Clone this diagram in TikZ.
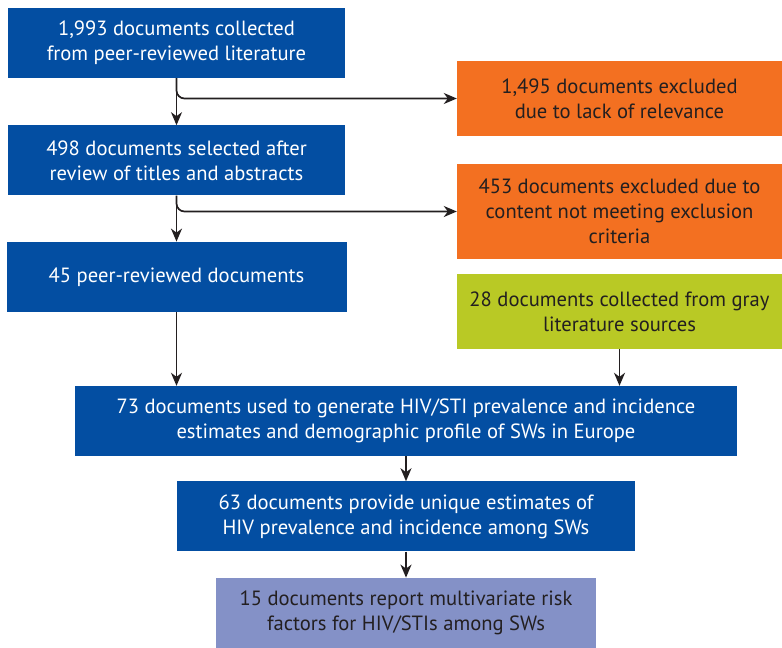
\documentclass[tikz,border=0pt]{standalone}
\usepackage{fontspec}
\setmainfont{PT Sans}
\usepackage{xcolor}
\usetikzlibrary{positioning, arrows.meta}
\definecolor{BoxBlue}{HTML}{034EA2}
\definecolor{ExclOrange}{HTML}{F37021}
\definecolor{GrayGreen}{HTML}{B9C925}
\definecolor{RiskLilac}{HTML}{8491C7}
\definecolor{InkDark}{HTML}{231F20}

\begin{document}
\begin{tikzpicture}[
    x=1pt, y=1pt,
    box/.style={
      rectangle, inner sep=0pt,
      minimum height=70pt,
      align=center, font=\fontsize{20.6}{25}\selectfont
    },
    bluebox/.style={box, fill=BoxBlue, text=white},
    sidebox/.style={box, minimum width=325pt, text=InkDark},
    flow/.style={InkDark, line width=1.7pt, arrows={-Stealth[length=13pt, width=11pt, inset=4pt]}}
  ]
    \useasboundingbox (0,0) rectangle (782,-648);

    %% Peer-reviewed stream
    \node[bluebox, minimum width=337pt] (collected) at (176.5,-43) {1,993 documents collected\\from peer-reviewed literature};
    \node[bluebox, minimum width=337pt, below=47pt of collected] (selected) {498 documents selected after\\review of titles and abstracts};
    \node[bluebox, minimum width=340pt, below=46pt of selected] (peer) {45 peer-reviewed documents};

    %% Exclusions and gray literature
    \node[sidebox, fill=ExclOrange, minimum height=75pt] (excl1) at (619.5,-98.5) {1,495 documents excluded\\due to lack of relevance};
    \node[sidebox, fill=ExclOrange, minimum height=95pt] (excl2) at (619.5,-211.5) {453 documents excluded due to\\content not meeting exclusion\\criteria};
    \node[sidebox, fill=GrayGreen, minimum height=75pt] (gray) at (619.5,-311.5) {28 documents collected from gray\\literature sources};

    %% Combined results
    \node[bluebox, minimum width=662pt] (used) at (406,-421) {73 documents used to generate HIV/STI prevalence and incidence\\estimates and demographic profile of SWs in Europe};
    \node[bluebox, minimum width=458pt, below=25pt of used] (unique) {63 documents provide unique estimates of\\HIV prevalence and incidence among SWs};
    \node[box, fill=RiskLilac, text=InkDark, minimum width=380pt, minimum height=71pt, below=26pt of unique] (risk) {15 documents report multivariate risk\\factors for HIV/STIs among SWs};

    %% Draw arrows
    \draw[flow] (collected) -- (selected);
    \draw[flow, rounded corners=8pt] (collected.south) |- (excl1.west);
    \draw[flow] (selected) -- (peer);
    \draw[flow, rounded corners=8pt] (selected.south) |- (excl2.west);
    \draw[flow] (peer.south) -- (peer.south |- used.north);
    \draw[flow] (gray.south) -- (gray.south |- used.north);
    \draw[flow] (used) -- (unique);
    \draw[flow] (unique) -- (risk);
  \end{tikzpicture}
\end{document}
